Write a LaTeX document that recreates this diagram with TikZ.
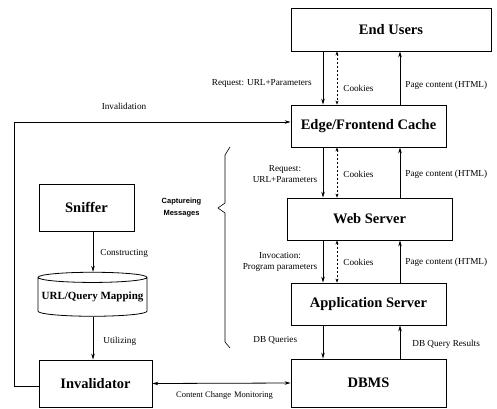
\documentclass[tikz,border=0pt]{standalone}
\usepackage{fontspec}
\setmainfont{Liberation Serif}
\newfontfamily\capfont{Liberation Sans}
\usetikzlibrary{arrows.meta,shapes.geometric}
\begin{document}
\begin{tikzpicture}[x=1pt,y=-1pt,line width=0.8pt,
  box/.style={draw,font=\bfseries\fontsize{14.5}{16}\selectfont,inner sep=0pt},
  lbl/.style={font=\fontsize{9.2}{11}\selectfont,inner sep=0pt,align=center},
  arr/.style={-{Stealth[length=6pt,width=3.5pt]}},
  darr/.style={{Stealth[length=4pt,width=3pt]}-{Stealth[length=4pt,width=3pt]},dashed,dash pattern=on 2pt off 2pt,line width=0.6pt}]
\useasboundingbox (0,0) rectangle (497,408);
% boxes
\node[box,minimum width=200pt,minimum height=43pt] (eu) at (391,29.5) {End Users};
\node[box,minimum width=155pt,minimum height=42pt] (ec) at (368.5,126) {Edge/Frontend Cache};
\node[box,minimum width=165pt,minimum height=42pt] (ws) at (369.5,219) {Web Server};
\node[box,minimum width=155pt,minimum height=42pt] (as) at (368.5,304) {Application Server};
\node[box,minimum width=155pt,minimum height=48pt] (db) at (368.5,383) {DBMS};
\node[box,minimum width=95pt,minimum height=47pt] (sn) at (86.5,207.5) {Sniffer};
\node[draw,cylinder,shape border rotate=90,aspect=0.1,minimum width=109pt,minimum height=44pt,inner sep=0pt,font=\bfseries\fontsize{11}{13}\selectfont] (mp) at (92.5,297) {URL/Query Mapping};
\node[box,minimum width=113pt,minimum height=47pt] (inv) at (95.5,383.5) {Invalidator};
% x positions
\coordinate (xa) at (323,0);
\coordinate (xb) at (337,0);
\coordinate (xc) at (400,0);
\coordinate (xs) at (93,0);
% End users <-> edge
\draw[arr] (eu.south -| xa) -- (ec.north -| xa);
\draw[darr] (eu.south -| xb) -- (ec.north -| xb);
\draw[arr] (ec.north -| xc) -- (eu.south -| xc);
% edge <-> web
\draw[arr] (ec.south -| xa) -- (ws.north -| xa);
\draw[darr] (ec.south -| xb) -- (ws.north -| xb);
\draw[arr] (ws.north -| xc) -- (ec.south -| xc);
% web <-> app
\draw[arr] (ws.south -| xa) -- (as.north -| xa);
\draw[darr] (ws.south -| xb) -- (as.north -| xb);
\draw[arr] (as.north -| xc) -- (ws.south -| xc);
% app <-> dbms
\draw[arr] (as.south -| xa) -- (db.north -| xa);
\draw[arr] (db.north -| xc) -- (as.south -| xc);
% sniffer chain
\draw[arr] (sn.south -| xs) -- (mp.north -| xs);
\draw[arr] (mp.south -| xs) -- (inv.north -| xs);
% invalidator <-> dbms
\draw[{Stealth[length=6pt,width=3.5pt]}-{Stealth[length=6pt,width=3.5pt]}] (inv.east) -- (db.west);
% invalidation
\coordinate (lx) at (14,0);
\draw[arr] ([yshift=-2.5pt]inv.west) -- ([yshift=-2.5pt]inv.west -| lx) |- ([yshift=4pt]ec.west);
% brace
\draw[line width=0.6pt] (230,147) -- (225,155) -- (225,203) -- (218,208) -- (225,213) -- (225,342) -- (230,348);
% labels
\node[lbl,anchor=east] (l1) at (312,83) {Request: URL+Parameters};
\node[lbl,anchor=west] (l2) at (343,88) {Cookies};
\node[lbl,anchor=west] (l3) at (405,85) {Page content (HTML)};
\node[lbl] (l4) at (124,106) {Invalidation};
\node[lbl] (l5) at (285,174) {Request:\\URL+Parameters};
\node[lbl,anchor=west] (l6) at (343,174) {Cookies};
\node[lbl,anchor=west] (l7) at (405,174) {Page content (HTML)};
\node[lbl,font=\capfont\bfseries\fontsize{7.5}{11.5}\selectfont] (l8) at (181.5,207.5) {Captureing\\Messages};
\node[lbl] (l9) at (280,262) {Invocation:\\Program parameters};
\node[lbl,anchor=west] (l10) at (343,262) {Cookies};
\node[lbl,anchor=west] (l11) at (405,262) {Page content (HTML)};
\node[lbl,anchor=west] (l12) at (100,253) {Constructing};
\node[lbl,anchor=west] (l13) at (103,341) {Utilizing};
\node[lbl,anchor=west] (l14) at (253,340) {DB Queries};
\node[lbl,anchor=west] (l15) at (412,344) {DB Query Results};
\node[lbl,font=\fontsize{8.5}{10}\selectfont] (l16) at (224.5,395) {Content Change\hspace{3pt}Monitoring};
\end{tikzpicture}
\end{document}
